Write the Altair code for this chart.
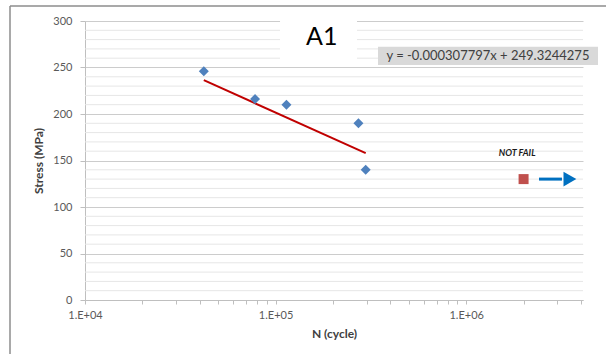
import altair as alt
import pandas as pd

# ---- data ----
cycles = [42000, 78000, 114000, 272000, 297000]
stress = [246, 216, 210, 190, 140]
notfail_cycles = [2000000]
notfail_stress = [130]
trend_cycles = [42000, 297000]
trend_stress = [236.4, 157.9]
arrow_cycles = [2410000, 3180000]
arrow_head_cycles = [3500000]
arrow_stress = [130]
x_tick_values = [1e4, 2e4, 3e4, 4e4, 5e4, 6e4, 7e4, 8e4, 9e4,
                 1e5, 2e5, 3e5, 4e5, 5e5, 6e5, 7e5, 8e5, 9e5,
                 1e6, 2e6, 3e6, 4e6]
y_major = [0, 50, 100, 150, 200, 250, 300]
y_minor = [10, 20, 30, 40, 60, 70, 80, 90, 110, 120, 130, 140, 160, 170, 180,
           190, 210, 220, 230, 240, 260, 270, 280, 290]
equation_text = ["y = -0.000307797x + 249.3244275"]
title_text = ["A1"]
notfail_text = ["NOT FAIL"]

# annotation anchors (data coordinates)
a1_box = {"N": [105500], "N2": [267400], "S": [252.7], "S2": [310]}
a1_pos = {"N": [174600], "S": [283.0]}
eq_box = {"N": [344600], "N2": [4915000], "S": [252.7], "S2": [272.4]}
eq_pos = {"N": [1300000], "S": [262.5]}
nf_pos = {"N": [1850000], "S": [158]}

FONT = "Lato"

xscale = alt.Scale(type="log", domain=[1e4, 4.1e6], nice=False)
yscale = alt.Scale(domain=[0, 300], nice=False, zero=True)

xaxis = alt.Axis(
    values=x_tick_values,
    labelExpr="abs(log(datum.value)/LN10 - round(log(datum.value)/LN10)) < 0.001 ? '1.E+0' + round(log(datum.value)/LN10) : ''",
    title="N (cycle)", grid=False, tickSize=4, labelPadding=5,
    labelColor="#595959", labelFontSize=11, labelFont=FONT, labelFlush=False,
    tickColor="#bfbfbf", domainColor="#bfbfbf",
    titleFont=FONT, titleFontSize=12, titleFontWeight="bold", titleColor="#404040",
    titlePadding=8,
)
yaxis = alt.Axis(
    values=y_major, title="Stress (MPa)", grid=True, gridColor="#cccccc",
    tickSize=5, labelPadding=8, labelColor="#595959", labelFontSize=11,
    labelFont=FONT, tickColor="#bfbfbf", domainColor="#bfbfbf",
    titleFont=FONT, titleFontSize=12, titleFontWeight="bold", titleColor="#404040",
    titlePadding=7,
)

X = alt.X("N:Q", scale=xscale, axis=xaxis)
Y = alt.Y("S:Q", scale=yscale, axis=yaxis)

pts = pd.DataFrame({"N": cycles, "S": stress})
nf = pd.DataFrame({"N": notfail_cycles, "S": notfail_stress})
trend = pd.DataFrame({"N": trend_cycles, "S": trend_stress})
arrow = pd.DataFrame({"N": arrow_cycles, "S": arrow_stress * len(arrow_cycles)})
arrow_head = pd.DataFrame({"N": arrow_head_cycles, "S": arrow_stress})
minor = pd.DataFrame({"S": y_minor})

minor_grid = alt.Chart(minor).mark_rule(color="#e6e6e6", strokeWidth=1).encode(y=Y)

a1_rect = alt.Chart(pd.DataFrame(a1_box)).mark_rect(color="white").encode(
    x=X, x2="N2:Q", y=Y, y2="S2:Q")
eq_rect = alt.Chart(pd.DataFrame(eq_box)).mark_rect(color="#d9d9d9").encode(
    x=X, x2="N2:Q", y=Y, y2="S2:Q")

trend_line = alt.Chart(trend).mark_line(color="#c00000", strokeWidth=2).encode(x=X, y=Y)
points = alt.Chart(pts).mark_point(shape="diamond", filled=True, size=100,
                                   color="#4f81bd", opacity=1).encode(x=X, y=Y)
nf_pt = alt.Chart(nf).mark_point(shape="square", filled=True, size=100,
                                 color="#c0504d", opacity=1).encode(x=X, y=Y)
arrow_line = alt.Chart(arrow).mark_line(color="#0070c0", strokeWidth=3).encode(x=X, y=Y)
arrow_tip = alt.Chart(arrow_head).mark_point(shape="triangle-right", filled=True, size=220,
                                             color="#0070c0", opacity=1).encode(x=X, y=Y)

a1_label = alt.Chart(pd.DataFrame({**a1_pos, "t": title_text})).mark_text(
    font=FONT, fontSize=25, color="#000000", align="center", baseline="middle"
).encode(x=X, y=Y, text="t:N")
eq_label = alt.Chart(pd.DataFrame({**eq_pos, "t": equation_text})).mark_text(
    font=FONT, fontSize=13, color="#404040", align="center", baseline="middle"
).encode(x=X, y=Y, text="t:N")
nf_label = alt.Chart(pd.DataFrame({**nf_pos, "t": notfail_text})).mark_text(
    font=FONT, fontSize=9, fontWeight="bold", fontStyle="italic", color="#1a1a1a",
    align="center", baseline="middle"
).encode(x=X, y=Y, text="t:N")

dummy = pd.DataFrame({"d": [0]})
border_top = alt.Chart(dummy).mark_rule(color="#8c8c8c", strokeWidth=1.5).encode(
    x=alt.value(-75), x2=alt.value(521), y=alt.value(-15))
border_left = alt.Chart(dummy).mark_rule(color="#8c8c8c", strokeWidth=1.5).encode(
    x=alt.value(-75), y=alt.value(-15), y2=alt.value(333))

chart = alt.layer(
    minor_grid, a1_rect, eq_rect, trend_line, points, nf_pt, arrow_line, arrow_tip,
    a1_label, eq_label, nf_label, border_top, border_left
).properties(
    width=498, height=279,
    padding={"left": 85, "top": 21, "right": 23, "bottom": 54},
    autosize="none", background="white",
).configure_view(stroke=None)

chart.save("out.html", embed_options={"renderer": "svg", "actions": False})
